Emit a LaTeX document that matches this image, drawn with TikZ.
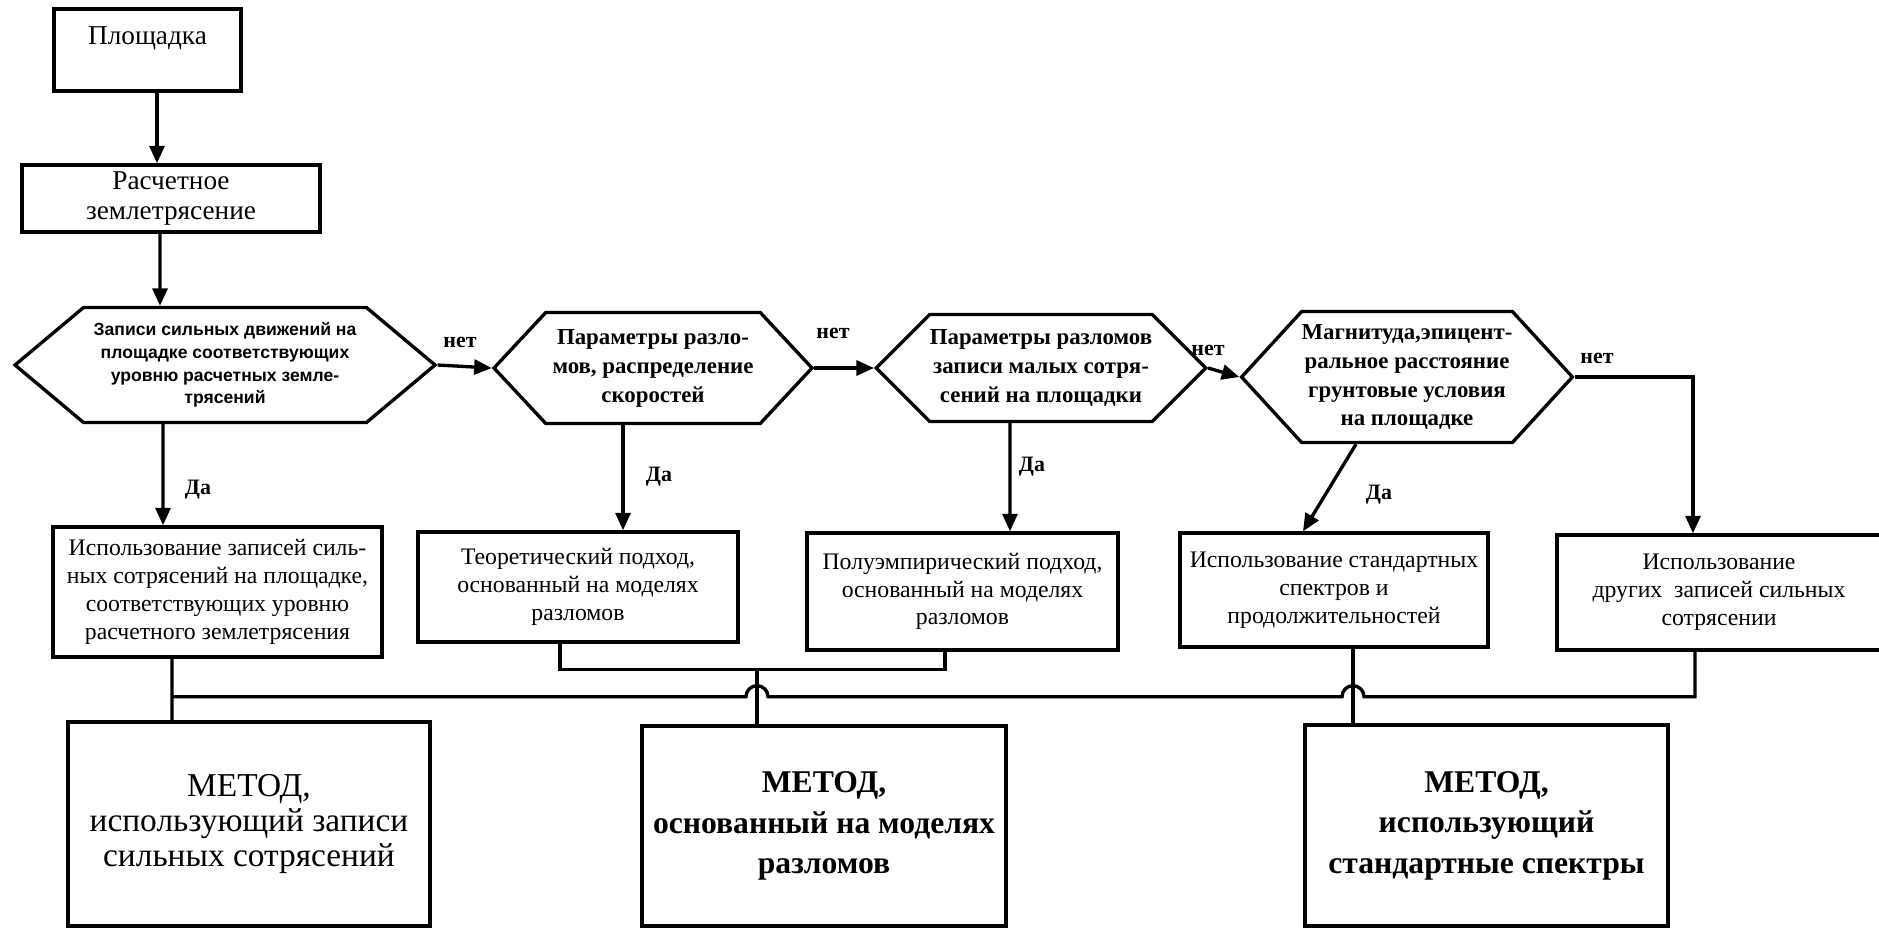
\documentclass[tikz,border=0pt]{standalone}
\usepackage{fontspec}
\setmainfont{Liberation Serif}
\newfontfamily\hexsans{Liberation Sans}
\usetikzlibrary{arrows.meta, shapes.symbols, calc}

\begin{document}
\begin{tikzpicture}[>={Triangle[length=10pt, width=8.5pt]},
    box/.style={rectangle, draw, line width=1.9pt, align=center, inner sep=2pt, font=\fontsize{13.5}{15.8}\selectfont},
    hexbox/.style={signal, signal to=east and west, draw, line width=1.9pt, align=center, inner sep=0pt, font=\fontsize{13}{16.5}\selectfont\bfseries},
    method/.style={box, font=\fontsize{18}{23}\selectfont\bfseries},
    link/.style={line width=1.9pt},
    arr/.style={link, ->},
    answer/.style={font=\fontsize{12.5}{14}\selectfont\bfseries}
]
\useasboundingbox (0,0) rectangle (37.58,-18.58);

% === Исходные данные ===
\node[box, minimum width=3.74cm, minimum height=1.64cm, font=\fontsize{15.5}{18}\selectfont, text height=11pt, text depth=17pt] (site) at (2.95,-1.00) {Площадка};
\node[box, minimum width=5.96cm, minimum height=1.34cm, font=\fontsize{15.5}{17.5}\selectfont] (design) at (3.42,-3.97) {Расчетное\\землетрясение};

% === Условия (шестиугольники) ===
\node[hexbox, minimum width=8.40cm, minimum height=2.30cm, signal pointer angle=80, font=\hexsans\fontsize{10}{13}\selectfont\bfseries] (h1) at (4.50,-7.30) {Записи сильных движений на\\площадке соответствующих\\уровню расчетных земле-\\трясений};
\node[hexbox, minimum width=6.36cm, minimum height=2.22cm, signal pointer angle=94] (h2) at (13.06,-7.36) {Параметры разло-\\мов, распределение\\скоростей};
\node[hexbox, minimum width=6.52cm, minimum height=2.14cm, signal pointer angle=90] (h3) at (20.82,-7.36) {Параметры разломов\\записи малых сотря-\\сений на площадки};
\node[hexbox, minimum width=6.60cm, minimum height=2.62cm, signal pointer angle=95] (h4) at (28.14,-7.54) {Магнитуда,эпицент-\\ральное расстояние\\грунтовые условия\\на площадке};

% === Подходы ===
\node[box, minimum width=6.58cm, minimum height=2.60cm] (useA) at (4.35,-11.84) {Использование записей силь-\\ных сотрясений на площадке,\\соответствующих уровню\\расчетного землетрясения};
\node[box, minimum width=6.40cm, minimum height=2.20cm] (theo) at (11.56,-11.74) {Теоретический подход,\\основанный на моделях\\разломов};
\node[box, minimum width=6.22cm, minimum height=2.34cm] (semi) at (19.25,-11.83) {Полуэмпирический подход,\\основанный на моделях\\разломов};
\node[box, minimum width=6.16cm, minimum height=2.28cm] (stand) at (26.68,-11.80) {Использование стандартных\\спектров и\\продолжительностей};
\node[box, minimum width=6.48cm, minimum height=2.30cm] (other) at (34.38,-11.85) {Использование\\других\ \ записей сильных\\сотрясении};

% === Методы ===
\node[box, minimum width=7.24cm, minimum height=4.08cm, font=\fontsize{19}{20}\selectfont] (m1) at (4.98,-16.48) {МЕТОД,\\использующий записи\\сильных сотрясений};
\node[method, minimum width=7.28cm, minimum height=4.00cm] (m2) at (16.48,-16.52) {МЕТОД,\\основанный на моделях\\разломов};
\node[method, minimum width=7.26cm, minimum height=4.02cm] (m3) at (29.73,-16.51) {МЕТОД,\\использующий\\стандартные спектры};

% === Стрелки ===
\draw[arr] ([xshift=0.19cm]site.south) -- ([xshift=-0.28cm]design.north);
\draw[arr] ([xshift=-0.22cm]design.south) -- ([xshift=-1.30cm]h1.north);
\draw[arr] (h1.east) -- (h2.west);
\draw[arr] (h2.east) -- (h3.west);
\draw[arr] (h3.east) -- (h4.west);
\draw[arr] (h4.east) -| ([xshift=-0.52cm]other.north);
\draw[arr] ([xshift=-1.24cm]h1.south) -- ([xshift=-1.09cm]useA.north);
\draw[arr] ([xshift=-0.60cm]h2.south) -- ([xshift=0.90cm]theo.north);
\draw[arr] ([xshift=-0.62cm]h3.south) -- ([xshift=0.95cm]semi.north);
\draw[arr] ([xshift=-1.02cm]h4.south) -- ([xshift=-0.62cm]stand.north);

\node[answer] (no1) at (9.20,-6.84) {нет};
\node[answer] (no2) at (16.66,-6.66) {нет};
\node[answer] (no3) at (24.16,-7.00) {нет};
\node[answer] (no4) at (31.94,-7.16) {нет};
\node[answer] (yes1) at (3.96,-9.80) {Да};
\node[answer] (yes2) at (13.18,-9.54) {Да};
\node[answer] (yes3) at (20.64,-9.34) {Да};
\node[answer] (yes4) at (27.58,-9.90) {Да};

% === Шины к методам ===
\draw[link] ([xshift=-0.91cm]useA.south) -- ([xshift=-1.54cm]m1.north);
\draw[link] ([xshift=-0.36cm]theo.south) -- ++(0,-0.52) coordinate (jl) -| ([xshift=-0.35cm]semi.south);
\draw[link] ([xshift=-1.34cm]m2.north) coordinate (j2) -- (j2 |- jl);
\draw[link] ([xshift=0.38cm]stand.south) coordinate (j3) -- (j3 |- m3.north);
\coordinate (busL) at ($([xshift=-0.91cm]useA.south)+(0,-0.76)$);
\draw[link] (busL) -- ($(busL -| j2)+(-0.22,0)$) arc[start angle=180, end angle=0, radius=0.22]
    -- ($(busL -| j3)+(-0.22,0)$) arc[start angle=180, end angle=0, radius=0.22]
    -| ([xshift=-0.48cm]other.south);

\end{tikzpicture}
\end{document}
